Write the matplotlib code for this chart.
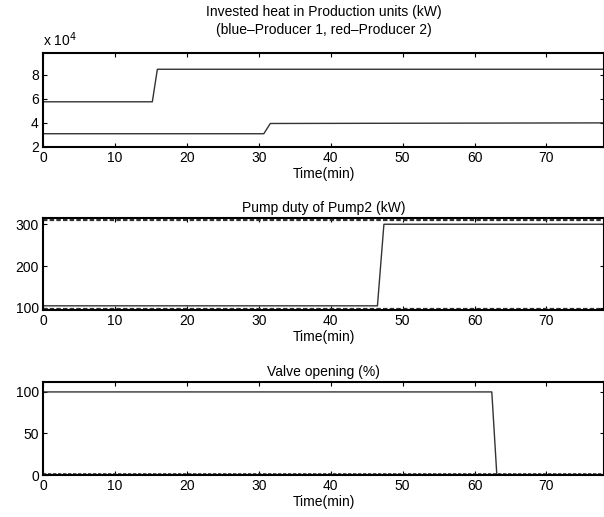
import matplotlib.pyplot as plt

# Data (time in minutes)
heat_p1_t = [0, 15.2, 15.9, 78]
heat_p1_v = [5.75e4, 5.75e4, 8.45e4, 8.45e4]
heat_p2_t = [0, 30.7, 31.6, 78]
heat_p2_v = [3.1e4, 3.1e4, 3.95e4, 4.0e4]

pump_t = [0, 46.5, 47.4, 78]
pump_v = [105, 105, 300, 300]
pump_max_t = [0, 78]
pump_max_v = [311, 311]
pump_min_t = [0, 78]
pump_min_v = [97, 97]

valve_t = [0, 62.4, 63.1, 78]
valve_v = [100, 100, 0, 0]
valve_min_t = [0, 78]
valve_min_v = [0.8, 0.8]

xticks = [0, 10, 20, 30, 40, 50, 60, 70]

plt.rcParams['font.family'] = ['Liberation Sans', 'DejaVu Sans']
plt.rcParams['font.size'] = 10

fig = plt.figure(figsize=(6.04, 5.17), dpi=100)
left, width = 43 / 604, 1 - 43 / 604
ax1 = fig.add_axes([left, 0.7157, width, 0.1818])
ax2 = fig.add_axes([left, 0.4004, width, 0.1780])
ax3 = fig.add_axes([left, 0.0812, width, 0.1800])

lc = '0.2'
ax1.plot(heat_p1_t, heat_p1_v, color=lc, lw=1)
ax1.plot(heat_p2_t, heat_p2_v, color=lc, lw=1)
ax1.set_ylim(2e4, 9.8e4)
ax1.set_yticks([2e4, 4e4, 6e4, 8e4])
ax1.set_yticklabels(['2', '4', '6', '8'])
ax1.set_title('Invested heat in Production units (kW)\n(blue\u2013Producer 1, red\u2013Producer 2)',
              fontsize=10, pad=14, linespacing=1.3)
ax1.text(0.0, 1.04, r'x 10$^4$', transform=ax1.transAxes, ha='left', va='bottom', fontsize=10)

ax2.plot(pump_max_t, pump_max_v, color=lc, lw=1.6, ls=(0, (2, 1)))
ax2.plot(pump_min_t, pump_min_v, color=lc, lw=1.6, ls=(0, (2, 1)))
ax2.plot(pump_t, pump_v, color=lc, lw=1)
ax2.set_ylim(95, 315)
ax2.set_yticks([100, 200, 300])
ax2.set_title('Pump duty of Pump2 (kW)', fontsize=10, pad=4)

ax3.plot(valve_t, valve_v, color=lc, lw=1)
ax3.plot(valve_min_t, valve_min_v, color=lc, lw=1.2, ls=(0, (2, 1)))
ax3.set_ylim(0, 112)
ax3.set_yticks([0, 50, 100])
ax3.set_title('Valve opening (%)', fontsize=10, pad=4)

for ax in (ax1, ax2, ax3):
    ax.set_xlim(0, 78)
    ax.set_xticks(xticks)
    ax.set_xlabel('Time(min)', labelpad=1)
    ax.tick_params(direction='in', top=True, right=True, length=3, width=0.8, pad=3)
    for s in ax.spines.values():
        s.set_linewidth(1.5)

fig.savefig('out.png', dpi=100)
